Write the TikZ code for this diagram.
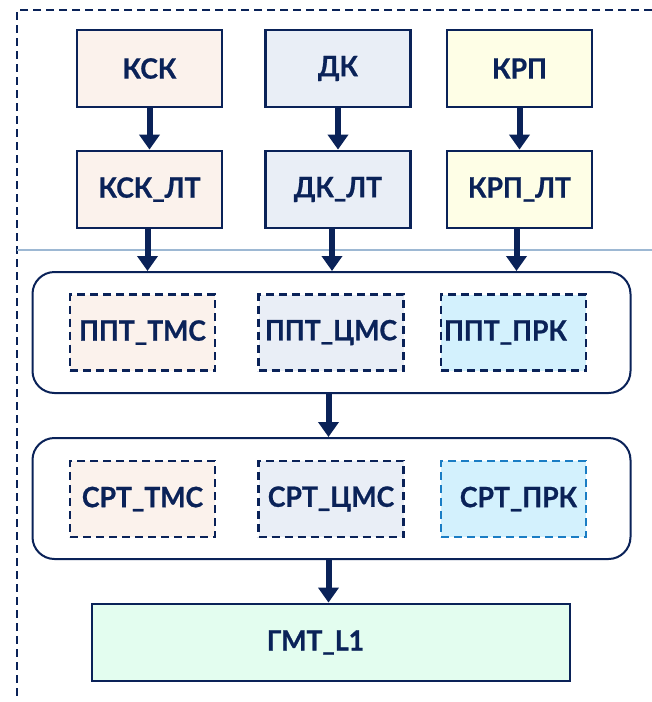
\documentclass[tikz,border=0pt]{standalone}
\usepackage{fontspec}
\setmainfont{Lato}
\newfontfamily\lblfont{Lato}[FakeStretch=0.95,BoldFeatures={FakeBold=0.8}]
\usetikzlibrary{arrows.meta}
\definecolor{navy}{RGB}{10,34,88}
\definecolor{fpeach}{RGB}{251,242,236}
\definecolor{fgrey}{RGB}{233,238,246}
\definecolor{fyellow}{RGB}{254,254,230}
\definecolor{fcyan}{RGB}{211,241,253}
\definecolor{fgreen}{RGB}{227,253,239}
\definecolor{sepblue}{RGB}{157,184,211}
\definecolor{dashblue}{RGB}{26,125,196}
\begin{document}
\begin{tikzpicture}[x=1pt,y=-1pt,
  lbl/.style={font=\lblfont\bfseries\fontsize{28}{30}\selectfont, text=navy},
  solidbox/.style={lbl, draw=navy, line width=2.8pt, fill=#1, minimum width=145pt, minimum height=77pt, inner sep=0pt},
  dashbox/.style={lbl, draw=navy, dash pattern=on 8pt off 5pt, line width=2.6pt, fill=#1, minimum width=145pt, minimum height=76pt, inner sep=0pt},
  groupbox/.style={draw=navy, line width=2pt, rounded corners=22pt, minimum width=598pt, minimum height=121pt, inner sep=0pt},
  arr/.style={draw=navy, line width=6pt, -{Triangle[length=15pt,width=20pt]}},
  frame/.style={draw=navy, line width=1.6pt, dash pattern=on 8pt off 5pt}
]
\useasboundingbox[fill=white] (0,0) rectangle (652,702);
% frame
\coordinate (ftl) at (17,10);
\coordinate (ftr) at (652,10);
\coordinate (fbl) at (17,697);
\coordinate (sl) at (17,250);
\coordinate (sr) at (652,250);
\draw[frame] (ftr) -- (ftl) -- (fbl);
\draw[sepblue, line width=1.5pt] (sl) -- (sr);
% top rows
\node[solidbox=fpeach] (ksk) at (149.5,68.5) {КСК};
\node[solidbox=fgrey] (dk) at (338,68.5) {ДК};
\node[solidbox=fyellow] (krp) at (519.5,68.5) {КРП};
\node[solidbox=fpeach] (ksklt) at (149.5,189.5) {КСК\_ЛТ};
\node[solidbox=fgrey] (dklt) at (338,189.5) {ДК\_ЛТ};
\node[solidbox=fyellow] (krplt) at (519.5,189.5) {КРП\_ЛТ};
% group 1
\node[groupbox] (g1) at (331.5,332.5) {};
\node[dashbox=fpeach] (p1) at (142.5,332.5) {ППТ\_ТМС};
\node[dashbox=fgrey] (p2) at (331,332.5) {ППТ\_ЦМС};
\node[dashbox=fcyan] (p3) at (513.5,332.5) {\hspace*{-16pt}ППТ\_ПРК};
% group 2
\node[groupbox] (g2) at (331.5,498.5) {};
\node[dashbox=fpeach] (s1) at (142.5,499) {СРТ\_ТМС};
\node[dashbox=fgrey] (s2) at (331,499) {СРТ\_ЦМС};
\node[dashbox=fcyan, draw=dashblue] (s3) at (513.5,499) {\hspace*{10pt}СРТ\_ПРК};
% bottom
\node[solidbox=fgreen, minimum width=478pt] (gmt) at (331,642.5) {\hspace*{-31pt}ГМТ\_L1};
% arrows
\draw[arr] (ksk) -- (ksklt);
\draw[arr] (dk) -- (dklt);
\draw[arr] (krp) -- (krplt);
\draw[arr] ([xshift=-2pt]ksklt.south) -- ([xshift=-2pt]ksklt.south |- g1.north);
\draw[arr] ([xshift=-6pt]dklt.south) -- ([xshift=-6pt]dklt.south |- g1.north);
\draw[arr] ([xshift=-3pt]krplt.south) -- ([xshift=-3pt]krplt.south |- g1.north);
\draw[arr] ([xshift=-3pt]g1.south) -- ([xshift=-3pt]g2.north);
\draw[arr] ([xshift=-3pt]g2.south) -- ([xshift=-3pt]g2.south |- gmt.north);
\end{tikzpicture}
\end{document}
